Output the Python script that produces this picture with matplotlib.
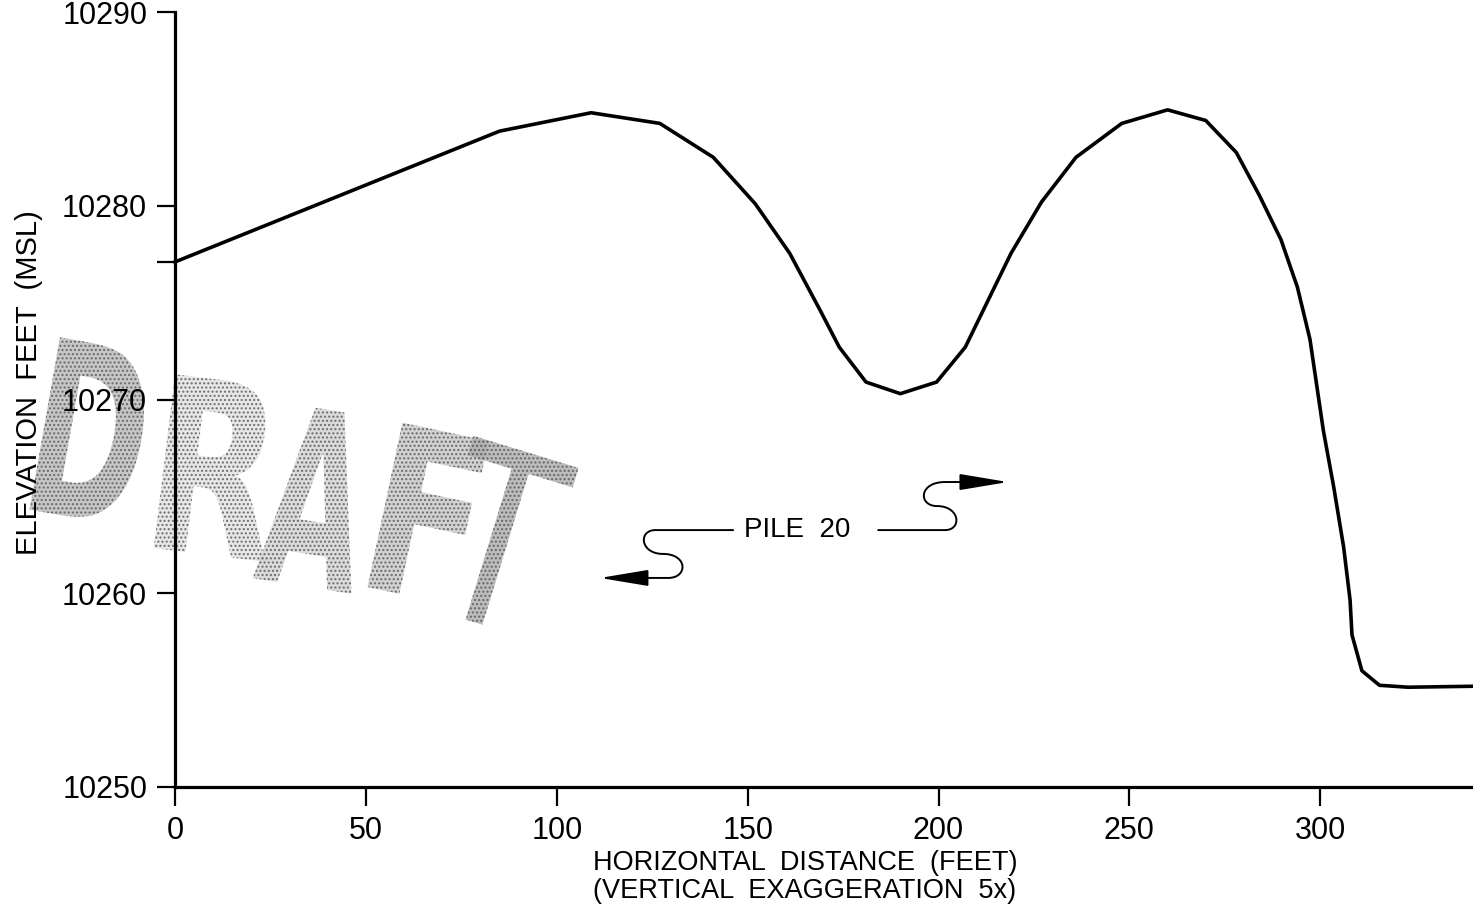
"""
Elevation profile, Pile 20
"""
import matplotlib
matplotlib.use("Agg")
import matplotlib.pyplot as plt
from matplotlib.font_manager import FontProperties
from matplotlib.patches import PathPatch, FancyArrowPatch
from matplotlib.path import Path
from matplotlib.textpath import TextPath
from matplotlib.transforms import Affine2D, IdentityTransform

# profile
distance_ft = [0, 85, 109, 127, 141, 152, 161, 169, 174, 181, 190, 199.5, 207,
               219, 227, 236, 248, 260, 270, 278, 284, 289.7, 294, 297.3, 300.8,
               303.5, 306.1, 307.8, 308.3, 310.9, 315.5, 323, 340]
elevation_ft = [10277.1, 10283.85, 10284.8, 10284.25, 10282.5, 10280.1, 10277.55,
                10274.6, 10272.7, 10270.9, 10270.3, 10270.9, 10272.7, 10277.55,
                10280.2, 10282.5, 10284.25, 10284.95, 10284.4, 10282.75, 10280.55,
                10278.25, 10275.8, 10273.1, 10268.4, 10265.5, 10262.4, 10259.65,
                10257.85, 10256.0, 10255.25, 10255.15, 10255.2]

x_ticks = [0, 50, 100, 150, 200, 250, 300]
y_ticks = [10250, 10260, 10270, 10280, 10290]

plt.rcParams['font.family'] = ['Liberation Sans', 'DejaVu Sans']

W, H = 1473, 917
fig = plt.figure(figsize=(W / 100, H / 100), dpi=100)
ax = fig.add_axes([175 / W, 1 - 787 / H, 1298 / W, 775 / H])
ax.set_facecolor('none')

ax.plot(distance_ft, elevation_ft, color='k', lw=2.6, clip_on=False)

ax.set_xlim(0, 340)
ax.set_ylim(10250, 10290)
ax.set_xticks(x_ticks)
ax.set_yticks(y_ticks)
ax.set_yticks([elevation_ft[0]], minor=True)
ax.tick_params(axis='both', direction='out', width=1.6, labelsize=22, color='k')
ax.tick_params(axis='x', length=14, pad=7)
ax.tick_params(axis='y', length=13, pad=7)
ax.tick_params(axis='y', which='minor', length=13, width=1.6)
for side in ('top', 'right'):
    ax.spines[side].set_visible(False)
for side in ('left', 'bottom'):
    ax.spines[side].set_linewidth(2.3)

fig.text(29 / W, 1 - 383 / H, 'ELEVATION  FEET  (MSL)', rotation=90,
         ha='center', va='center', fontsize=21)
fig.text(805 / W, 1 - 877 / H, 'HORIZONTAL  DISTANCE  (FEET)\n(VERTICAL  EXAGGERATION  5x)',
         ha='center', va='center', fontsize=19.5, linespacing=1.1)

# PILE 20 label with S-shaped leaders
ax.text(163.1, 10263.26, 'PILE  20', ha='center', va='center', fontsize=20)
C4 = Path.CURVE4
left_leader = Path(
    [(146.2, 10263.26), (125.8, 10263.26),
     (121.3, 10263.26), (121.8, 10262.03), (127.8, 10262.03),
     (134.4, 10262.03), (134.4, 10260.79), (129.2, 10260.79),
     (111.3, 10260.79)],
    [Path.MOVETO, Path.LINETO, C4, C4, C4, C4, C4, C4, Path.LINETO])
right_leader = Path(
    [(184.2, 10263.26), (201.7, 10263.26),
     (206.2, 10263.26), (205.7, 10264.50), (199.6, 10264.50),
     (194.7, 10264.50), (194.7, 10265.74), (201.7, 10265.74),
     (218.2, 10265.74)],
    [Path.MOVETO, Path.LINETO, C4, C4, C4, C4, C4, C4, Path.LINETO])
for p in (left_leader, right_leader):
    ax.add_patch(FancyArrowPatch(path=p, arrowstyle='-|>,head_length=3,head_width=0.5',
                                 mutation_scale=10, lw=1.4, color='k', clip_on=False))

# DRAFT stamp (pixel layout: letter, centre x, centre y, height, width, angle, fill, weight)
stamp = [
    ('D', 93, 432, 175, 98, -10, '#b8b8b8', 'bold'),
    ('R', 220, 468, 175, 112, -7, '#e2e2e2', 'bold'),
    ('A', 316, 498, 178, 100, -9, '#d2d2d2', 'bold'),
    ('F', 428, 514, 168, 88, -12, '#c6c6c6', 'bold'),
    ('T', 500, 537, 178, 110, -17, '#acacac', 'normal'),
]
for ch, cx, cy, h, w, ang, shade, wt in stamp:
    tp = TextPath((0, 0), ch, size=100, prop=FontProperties(family='DejaVu Sans', weight=wt))
    bb = tp.get_extents()
    tr = (Affine2D().translate(-(bb.x0 + bb.x1) / 2, -(bb.y0 + bb.y1) / 2)
          .scale(w / bb.width, h / bb.height)
          .rotate_deg(ang)
          .translate(cx, H - cy))
    fig.add_artist(PathPatch(tr.transform_path(tp), transform=IdentityTransform(),
                             fc=shade, ec='#555555', lw=0, hatch='....', alpha=0.8, zorder=-1))

fig.savefig('out.png', dpi=100)
